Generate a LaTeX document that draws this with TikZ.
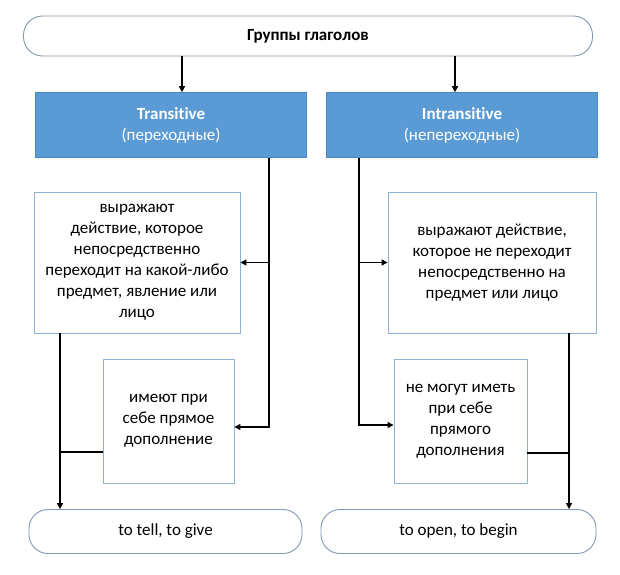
\documentclass[tikz,border=0pt]{standalone}
\usepackage{fontspec}
\setmainfont{Carlito}[Ligatures=NoCommon]
\usetikzlibrary{arrows.meta}

\definecolor{headblue}{HTML}{5B9BD5}
\definecolor{headedge}{HTML}{4A88C2}
\definecolor{boxedge}{HTML}{8FB1D2}
\definecolor{pilledge}{HTML}{8497B0}

\tikzset{
    pill/.style={draw=pilledge, line width=0.9pt, rounded corners=19pt, fill=white},
    head/.style={draw=headedge, line width=0.6pt, fill=headblue, text=white, align=center},
    textbox/.style={draw=boxedge, line width=0.9pt, align=center, fill=white},
    arr/.style={line width=1.3pt, -{Triangle[length=6pt,width=6pt]}},
    ln/.style={line width=1.3pt}
}

\begin{document}
\begin{tikzpicture}[x=1pt,y=-1pt,font=\fontsize{17}{21}\selectfont, inner sep=0pt]

    % Fix the margins of the picture
    \useasboundingbox (0,0) rectangle (620,574);

    % Top group node
    \node[pill, minimum width=569pt, minimum height=40pt] (groups) at (308,36) {\textbf{Группы глаголов}};

    % The two header boxes
    \node[head, minimum width=271pt, minimum height=65pt] (trans) at (171,125)
        {\textbf{Transitive}\\(переходные)};
    \node[head, minimum width=271pt, minimum height=65pt] (intrans) at (462,125)
        {\textbf{Intransitive}\\(непереходные)};

    % Description boxes
    \node[textbox, minimum width=206pt, minimum height=141pt] (transdef) at (137,262.5)
        {выражают\\действие, которое\\непосредственно\\переходит на какой-либо\\предмет, явление или\\лицо};
    \node[textbox, minimum width=131pt, minimum height=124pt] (transobj) at (168.5,421)
        {имеют при\\себе прямое\\дополнение};
    \node[textbox, minimum width=208pt, minimum height=141pt] (intransdef) at (492,262.5)
        {выражают действие,\\которое не переходит\\непосредственно на\\предмет или лицо};
    \node[textbox, minimum width=133pt, minimum height=124pt] (intransobj) at (460.5,421)
        {не могут иметь\\при себе\\прямого\\дополнения};

    % Example nodes at the bottom
    \node[pill, minimum width=273pt, minimum height=44pt] (tell) at (165.5,531.5) {to tell, to give};
    \node[pill, minimum width=275pt, minimum height=44pt] (open) at (458.5,531.5) {to open, to begin};

    % Helper coordinates for the vertical lines
    \coordinate (ta) at (182,0);
    \coordinate (ia) at (455,0);
    \coordinate (tt) at (269,0);
    \coordinate (it) at (359,0);
    \coordinate (to) at (60,0);
    \coordinate (io) at (569,0);

    % Arrows from the top node
    \draw[arr] (groups.south -| ta) -- (trans.north -| ta);
    \draw[arr] (groups.south -| ia) -- (intrans.north -| ia);

    % Transitive trunk
    \draw[ln] (trans.south -| tt) -- (tt |- transdef.east);
    \draw[arr] (tt |- transdef.east) -- (transdef.east);
    \draw[arr] (tt |- transdef.east) -- ([yshift=-6pt]tt |- transobj.east) -- ([yshift=-6pt]transobj.east);

    % Intransitive trunk
    \draw[ln] (intrans.south -| it) -- (it |- intransdef.west);
    \draw[arr] (it |- intransdef.west) -- (intransdef.west);
    \draw[arr] (it |- intransdef.west) -- ([yshift=-4pt]it |- intransobj.west) -- ([yshift=-4pt]intransobj.west);

    % Lines down to the examples
    \draw[arr] (transdef.south -| to) -- (tell.north -| to);
    \draw[ln] ([yshift=-31pt]transobj.west) -- ([yshift=-31pt]to |- transobj.west);
    \draw[arr] (intransdef.south -| io) -- (open.north -| io);
    \draw[ln] ([yshift=-32pt]intransobj.east) -- ([yshift=-32pt]io |- intransobj.east);

\end{tikzpicture}
\end{document}
